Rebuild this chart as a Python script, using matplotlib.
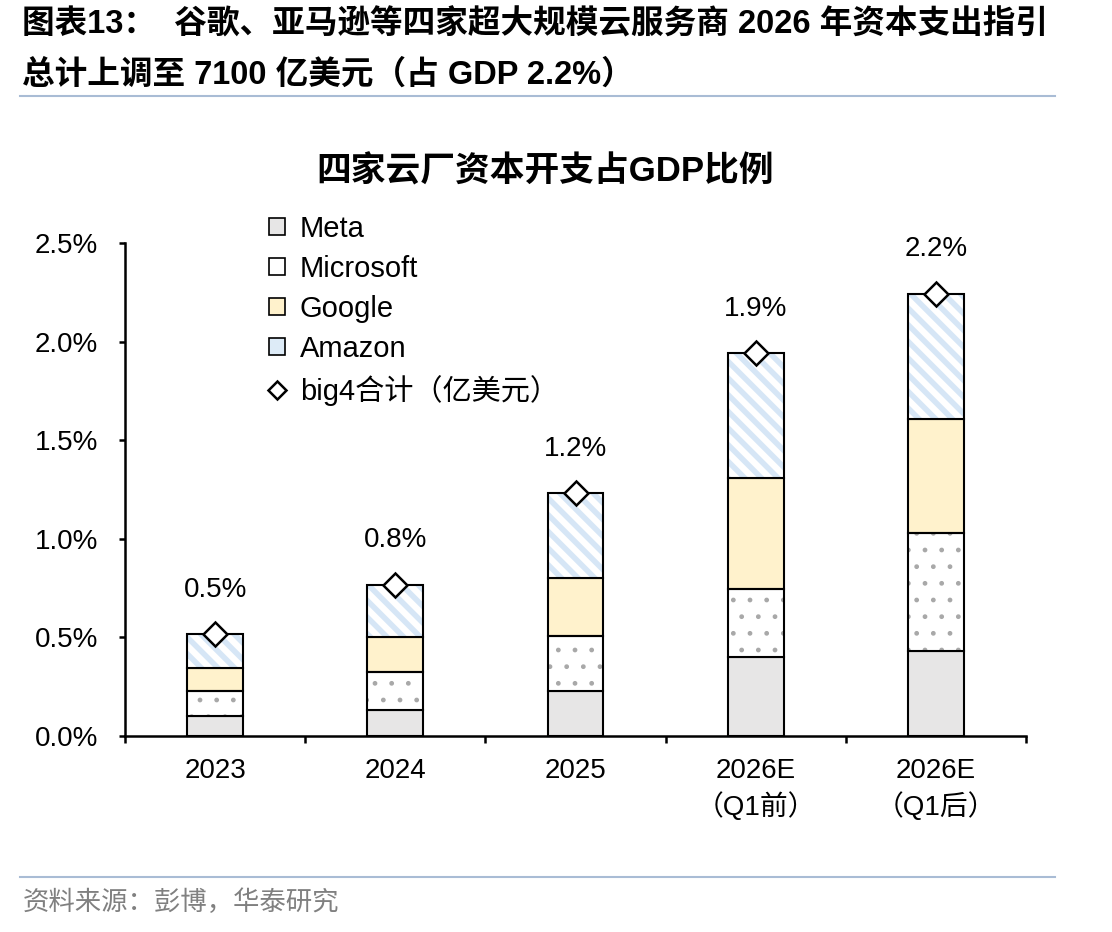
import numpy as np
import matplotlib
matplotlib.use('Agg')
import matplotlib.pyplot as plt
from matplotlib.patches import Patch
from matplotlib.lines import Line2D

plt.rcParams['font.family'] = ['Liberation Sans', 'Noto Sans CJK SC', 'DejaVu Sans']
plt.rcParams['hatch.linewidth'] = 1.0

# данные (доля капзатрат в ВВП, %)
categories = ['2023', '2024', '2025', '2026E\n（Q1前）', '2026E\n（Q1后）']
meta = [0.10, 0.13, 0.23, 0.40, 0.43]
microsoft = [0.13, 0.195, 0.275, 0.345, 0.60]
google = [0.115, 0.175, 0.295, 0.565, 0.578]
amazon = [0.172, 0.266, 0.432, 0.63, 0.635]
series_names = ['Meta', 'Microsoft', 'Google', 'Amazon']
total_name = 'big4合计（亿美元）'

x = np.arange(len(categories))
w = 0.31
total = np.array(meta) + np.array(microsoft) + np.array(google) + np.array(amazon)

fig = plt.figure(figsize=(11.12, 9.32), dpi=100)
ax = fig.add_axes([0.1124, 0.2103, 0.8103, 0.5290])

edge = 'black'
lw = 1.5
fs = 20

# Meta
b0 = np.zeros(len(x))
ax.bar(x, meta, w, bottom=b0, color='#E7E6E6', edgecolor=edge, linewidth=lw, zorder=2)
b1 = b0 + np.array(meta)
# Microsoft - точки
ax.bar(x, microsoft, w, bottom=b1, color='white', edgecolor='#A8A8A8', hatch='.', linewidth=0, zorder=2)
ax.bar(x, microsoft, w, bottom=b1, fill=False, edgecolor=edge, linewidth=lw, zorder=3)
b2 = b1 + np.array(microsoft)
# Google
ax.bar(x, google, w, bottom=b2, color='#FFF2CC', edgecolor=edge, linewidth=lw, zorder=2)
b3 = b2 + np.array(google)
# Amazon - штриховка
am = ax.bar(x, amazon, w, bottom=b3, color='white', edgecolor='#D6E6F6', hatch='\\\\', linewidth=0, zorder=2)
for p in am:
    if hasattr(p, 'set_hatch_linewidth'):
        p.set_hatch_linewidth(4.0)
ax.bar(x, amazon, w, bottom=b3, fill=False, edgecolor=edge, linewidth=lw, zorder=3)

# ромбы - итог
ax.plot(x, total, linestyle='none', marker='D', markersize=12, markerfacecolor='white',
        markeredgecolor='black', markeredgewidth=1.8, zorder=5, clip_on=False)
for i in range(len(x)):
    ax.annotate(f'{total[i]:.1f}%', xy=(x[i], total[i]), xytext=(0, 32), textcoords='offset points',
                ha='center', va='center', fontsize=fs)

ax.set_xlim(-0.5, len(x) - 0.5)
ax.set_ylim(0, 2.5)
ax.set_yticks(np.arange(0, 2.51, 0.5))
ax.set_yticklabels([f'{v:.1f}%' for v in np.arange(0, 2.51, 0.5)], fontsize=fs)
ax.set_xticks(np.arange(-0.5, len(x), 1.0))
ax.set_xticklabels([])
ax.set_xticks(x, minor=True)
ax.set_xticklabels(categories, minor=True, fontsize=fs)
for t in ax.get_xticklabels(minor=True):
    t.set_linespacing(1.35)
ax.tick_params(axis='x', which='major', direction='out', length=5, width=1.8)
ax.tick_params(axis='x', which='minor', length=0, pad=16)
ax.tick_params(axis='y', direction='out', length=4.5, width=1.8, pad=15)
for s in ['top', 'right']:
    ax.spines[s].set_visible(False)
for s in ['left', 'bottom']:
    ax.spines[s].set_linewidth(1.8)

# легенда
handles = [Patch(facecolor='#E7E6E6', edgecolor='black', linewidth=1.2),
           Patch(facecolor='white', edgecolor='black', linewidth=1.2),
           Patch(facecolor='#FFF2CC', edgecolor='black', linewidth=1.2),
           Patch(facecolor='#DDEBF7', edgecolor='black', linewidth=1.2),
           Line2D([], [], linestyle='none', marker='D', markersize=9, markerfacecolor='white',
                  markeredgecolor='black', markeredgewidth=1.8)]
fig.legend(handles, series_names + [total_name], loc='upper left', bbox_to_anchor=(0.2315, 0.782),
           frameon=False, fontsize=21, handlelength=0.55, handleheight=0.55, labelspacing=0.41,
           handletextpad=0.5, borderaxespad=0)

# заголовки
fig.text(0.49, 0.8155, '四家云厂资本开支占GDP比例', ha='center', va='center', fontsize=25, fontweight='bold')
fig.text(0.02, 0.973, '图表13：  谷歌、亚马逊等四家超大规模云服务商 2026 年资本支出指引', ha='left', va='center',
         fontsize=23.5, fontweight='bold')
fig.text(0.02, 0.9195, '总计上调至 7100 亿美元（占 GDP 2.2%）', ha='left', va='center',
         fontsize=23.5, fontweight='bold')
fig.add_artist(Line2D([0.018, 0.949], [0.897, 0.897], color='#A9BCD5', linewidth=1.5))
fig.add_artist(Line2D([0.018, 0.949], [0.059, 0.059], color='#A9BCD5', linewidth=1.5))
fig.text(0.02, 0.032, '资料来源：彭博，华泰研究', ha='left', va='center', fontsize=19, color='#808080')

fig.savefig('out.png', dpi=100, facecolor='white')
